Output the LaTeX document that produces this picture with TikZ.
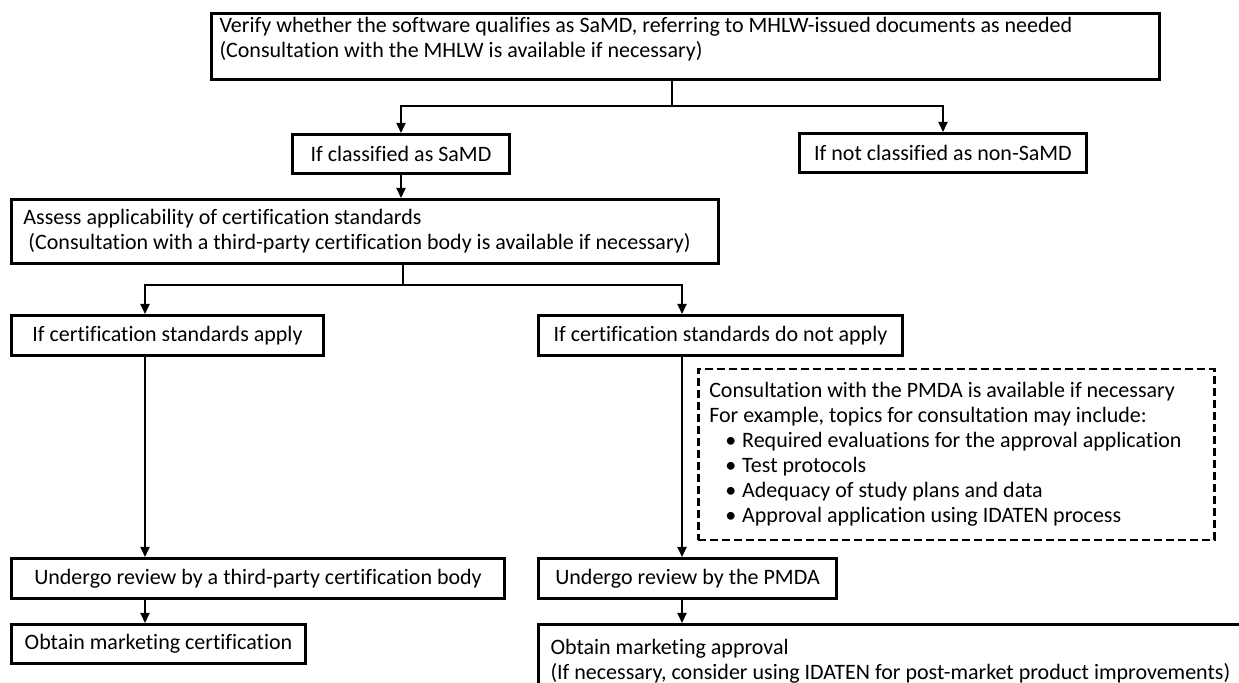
\documentclass[tikz,border=0pt]{standalone}
\usepackage{fontspec}
\setmainfont{Carlito}[Ligatures=NoCommon]
\usetikzlibrary{arrows.meta, positioning}

\begin{document}
\begin{tikzpicture}[
    x=0.5pt, y=-0.5pt,
    box/.style={rectangle, draw, line width=1.5pt, anchor=north west, inner sep=0pt, align=center, font=\fontsize{11}{12.5}\selectfont},
    multi/.style={box, align=flush left, inner xsep=5pt},
    note/.style={multi, line width=1.25pt, dash pattern=on 4pt off 2pt},
    line/.style={line width=1pt},
    arrow/.style={line, -{Triangle[length=5pt, width=4.5pt]}},
]
\useasboundingbox (0,0) rectangle (1239,683);
\clip (0,0) rectangle (1239,683);

% Verification
\node[multi, inner xsep=4pt, text width=466pt, minimum height=33pt, text depth=21.5pt] (verify) at (210,12) {Verify whether the software qualifies as SaMD, referring to MHLW-issued documents as needed\\(Consultation with the MHLW is available if necessary)};

% Classification
\node[box, minimum width=108.5pt, minimum height=19.5pt] (samd) at (291,133) {If classified as SaMD};
\node[box, minimum width=143.5pt, minimum height=19.5pt] (nonsamd) at (798,132) {If not classified as non-SaMD};

% Certification standards
\node[multi, inner xsep=6pt, text width=341.5pt, minimum height=32pt] (assess) at (10,198) {Assess applicability of certification standards\\\ (Consultation with a third-party certification body is available if necessary)};
\node[box, minimum width=156pt, minimum height=20pt] (apply) at (10,314) {If certification standards apply};
\node[box, minimum width=182pt, minimum height=20pt] (notapply) at (537,314) {If certification standards do not apply};

% PMDA consultation
\node[note, inner xsep=5.5pt, text width=247pt, minimum height=85.5pt] (consult) at (697,368) {Consultation with the PMDA is available if necessary\\For example, topics for consultation may include:\\
\hspace*{8pt}\textbullet\hspace{3pt}Required evaluations for the approval application\\
\hspace*{8pt}\textbullet\hspace{3pt}Test protocols\\
\hspace*{8pt}\textbullet\hspace{3pt}Adequacy of study plans and data\\
\hspace*{8pt}\textbullet\hspace{3pt}Approval application using IDATEN process};

% Review
\node[box, minimum width=246.5pt, minimum height=20pt] (review3p) at (10,557) {Undergo review by a third-party certification body};
\node[box, minimum width=149pt, minimum height=20pt] (reviewpmda) at (537,557) {Undergo review by the PMDA};

% Outcome
\node[box, minimum width=147pt, minimum height=19.5pt] (cert) at (10,623) {Obtain marketing certification};
\node[multi, inner xsep=6pt, text width=348pt, minimum height=36.5pt] (approval) at (537,623) {Obtain marketing approval\\(If necessary, consider using IDATEN for post-market product improvements)};

% Branch points
\coordinate (split1) at (672,106);
\coordinate (split2) at (403,285);
\coordinate (colL) at (145,285);
\coordinate (colR) at (682,285);

% Verification -> classification
\draw[line] (verify.south -| split1) -- (split1);
\draw[arrow] (split1) -| (samd.north);
\draw[arrow] (split1) -| (nonsamd.north);

% SaMD -> assessment
\draw[arrow] (samd.south) -- (samd.south |- assess.north);
\draw[line] (split2 |- assess.south) -- (split2);
\draw[arrow] (split2) -- (colL) -- (colL |- apply.north);
\draw[arrow] (split2) -- (colR) -- (colR |- notapply.north);

% Standards -> review
\draw[arrow] (colL |- apply.south) -- (colL |- review3p.north);
\draw[arrow] (colR |- notapply.south) -- (colR |- reviewpmda.north);

% Review -> outcome
\draw[arrow] (colL |- review3p.south) -- (colL |- cert.north);
\draw[arrow] (colR |- reviewpmda.south) -- (colR |- approval.north);

\end{tikzpicture}
\end{document}
